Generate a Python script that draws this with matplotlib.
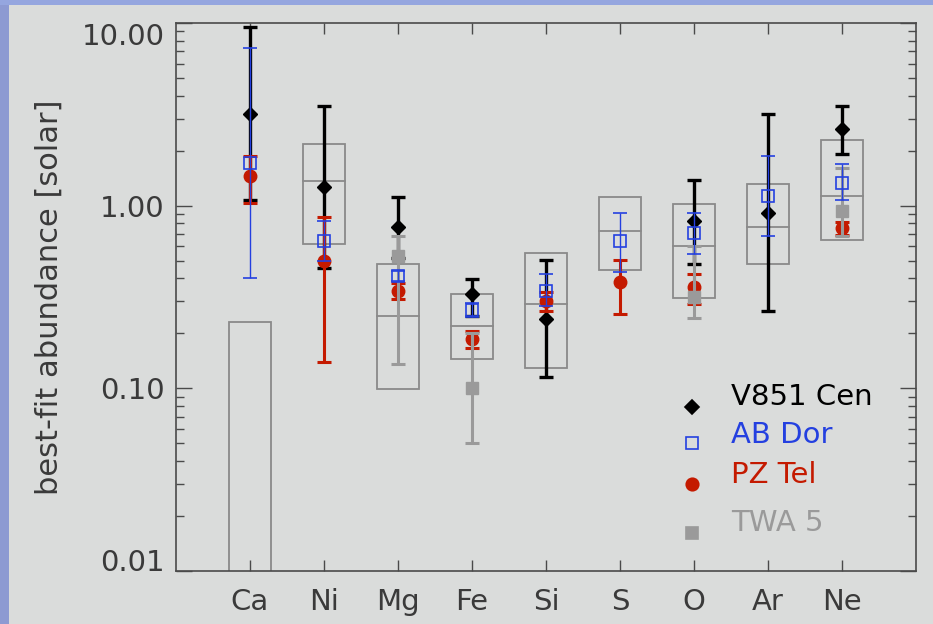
import numpy as np
import matplotlib
matplotlib.use("Agg")
import matplotlib.pyplot as plt
from matplotlib.patches import Rectangle
from matplotlib.ticker import FixedLocator, NullFormatter, NullLocator

nan = np.nan

elements = ["Ca", "Ni", "Mg", "Fe", "Si", "S", "O", "Ar", "Ne"]

# range boxes (low edge, middle line, high edge)
box_lo = [0.005, 0.614, 0.099, 0.1445, 0.1295, 0.442, 0.313, 0.477, 0.649]
box_mid = [nan, 1.36, 0.249, 0.219, 0.288, 0.723, 0.604, 0.764, 1.134]
box_hi = [0.231, 2.18, 0.477, 0.327, 0.551, 1.116, 1.017, 1.315, 2.30]

# V851 Cen
v851 = [3.18, 1.27, 0.764, 0.33, 0.240, nan, 0.82, 0.912, 2.63]
v851_lo = [1.08, 0.456, 0.517, 0.25, 0.1156, nan, 0.481, 0.265, 1.93]
v851_hi = [9.48, 3.50, 1.12, 0.398, 0.506, nan, 1.39, 3.19, 3.50]

# AB Dor
abdor = [1.71, 0.637, 0.41, 0.269, 0.339, 0.637, 0.708, 1.13, 1.33]
abdor_lo = [0.40, 0.50, 0.385, 0.247, 0.281, 0.436, 0.546, 0.685, 1.074]
abdor_hi = [7.28, 0.82, 0.44, 0.293, 0.420, 0.912, 0.912, 1.88, 1.70]

# PZ Tel
pztel = [1.45, 0.495, 0.343, 0.187, 0.299, 0.382, 0.357, nan, 0.755]
pztel_lo = [1.04, 0.140, 0.308, 0.166, 0.266, 0.256, 0.29, nan, 0.694]
pztel_hi = [1.86, 0.863, 0.377, 0.207, 0.335, 0.506, 0.424, nan, 0.814]

# TWA 5
twa = [nan, nan, 0.527, 0.101, nan, nan, 0.318, nan, 0.939]
twa_lo = [nan, nan, 0.1356, 0.0505, nan, nan, 0.242, nan, 0.679]
twa_hi = [nan, nan, 0.679, 0.20, nan, nan, 0.60, nan, 1.60]

ytick_vals = [0.01, 0.1, 1.0, 10.0]
ytick_labels = ["0.01", "0.10", "1.00", "10.00"]

BG = "#dadcdb"
BLACK = "#000000"
BLUE = "#2440e0"
RED = "#c41a00"
GRAY = "#9a9a9a"
TXT = "#3a3a3a"

plt.rcParams["font.family"] = ["DejaVu Sans"]

fig = plt.figure(figsize=(9.33, 6.24), dpi=100, facecolor=BG)
# border strips
fig.patches.append(Rectangle((0, 0), 9 / 933, 1, transform=fig.transFigure,
                             facecolor="#8d9ad2", edgecolor="none", zorder=0))
fig.patches.append(Rectangle((0, 1 - 5 / 624), 1, 5 / 624, transform=fig.transFigure,
                             facecolor="#95a6df", edgecolor="none", zorder=0))

ax = fig.add_axes([176 / 933, 1 - 571 / 624, 740 / 933, 548 / 624])
ax.set_facecolor(BG)
ax.set_yscale("log")
ax.set_xlim(-1, 9)
ax.set_ylim(0.01, 10)

x = np.arange(len(elements))
half = 0.285

# range boxes with middle line
for xi, lo, mid, hi in zip(x, box_lo, box_mid, box_hi):
    ax.add_patch(Rectangle((xi - half, lo), 2 * half, hi - lo, facecolor="none",
                           edgecolor="#8a8a8a", linewidth=1.3, zorder=1))
    if not np.isnan(mid):
        ax.plot([xi - half, xi + half], [mid, mid], color="#8a8a8a", lw=1.3, zorder=1)


def yerr(v, lo, hi):
    v, lo, hi = map(np.asarray, (v, lo, hi))
    return np.vstack([v - lo, hi - v])


ax.errorbar(x, v851, yerr=yerr(v851, v851_lo, v851_hi), fmt="D", color=BLACK,
            ms=7.5, elinewidth=2.4, capsize=5, capthick=2.4, zorder=3)
ax.errorbar(x, pztel, yerr=yerr(pztel, pztel_lo, pztel_hi), fmt="o", color=RED,
            ms=9, elinewidth=2.2, capsize=5, capthick=2.2, zorder=4)
ax.errorbar(x, twa, yerr=yerr(twa, twa_lo, twa_hi), fmt="s", color=GRAY,
            ms=8.5, elinewidth=2.2, capsize=5, capthick=2.2, zorder=5)
ax.errorbar(x, abdor, yerr=yerr(abdor, abdor_lo, abdor_hi), fmt="s", color=BLUE,
            mfc="none", mec=BLUE, mew=1.2, ms=8.5, elinewidth=1.0, capsize=5,
            capthick=1.2, zorder=6)

# legend drawn by hand
legend_rows = [
    ("V851 Cen", "D", BLACK, BLACK, 7.5, 0.3175, 0.300),
    ("AB Dor", "s", "none", BLUE, 8.5, 0.248, 0.233),
    ("PZ Tel", "o", RED, RED, 9, 0.175, 0.159),
    ("TWA 5", "s", GRAY, GRAY, 8.5, 0.0876, 0.069),
]
for name, mk, fc, ec, ms, ty, my in legend_rows:
    ax.plot([0.697], [my], marker=mk, mfc=fc, mec=ec, ms=ms, mew=1.2,
            linestyle="none", transform=ax.transAxes, zorder=7)
    ax.text(0.75, ty, name, color=ec if fc == "none" else fc, fontsize=21,
            va="center", ha="left", transform=ax.transAxes, zorder=7)

# axes styling
for sp in ax.spines.values():
    sp.set_color("#4a4a4a")
    sp.set_linewidth(1.2)

ax.yaxis.set_major_locator(FixedLocator(ytick_vals))
ax.set_yticklabels(ytick_labels)
minors = [m * d for d in (0.01, 0.1, 1.0) for m in range(2, 10)]
ax.yaxis.set_minor_locator(FixedLocator(minors))
ax.yaxis.set_minor_formatter(NullFormatter())
ax.set_xticks(x)
ax.set_xticklabels(elements)
ax.xaxis.set_minor_locator(NullLocator())

ax.tick_params(axis="y", which="major", direction="in", length=11.5, width=1.0,
               color="#4a4a4a", right=True, labelsize=21, labelcolor=TXT, pad=8)
ax.tick_params(axis="y", which="minor", direction="in", length=5.8, width=1.0,
               color="#4a4a4a", right=True)
ax.tick_params(axis="x", which="major", direction="in", length=8, width=1.0,
               color="#4a4a4a", top=True, labelsize=21, labelcolor=TXT, pad=12)

ticks = ax.yaxis.get_major_ticks()
ticks[0].label1.set_va("baseline")
ticks[-1].label1.set_va("top")

ax.set_ylabel("best-fit abundance [solar]", fontsize=22, color=TXT)
ax.yaxis.set_label_coords(-0.152, 0.5)

fig.savefig("out.png", dpi=100, facecolor=BG)
